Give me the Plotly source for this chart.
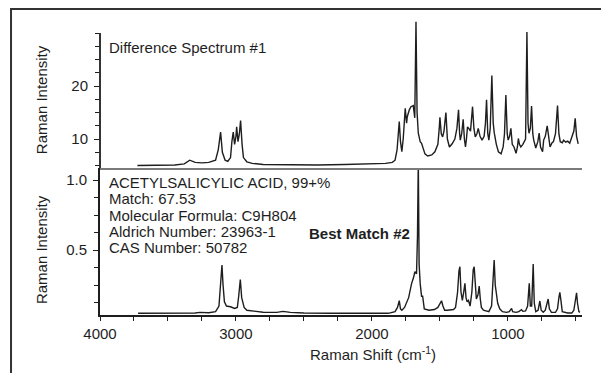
import plotly.graph_objects as go

# ---------------- data ----------------
diff_wn = [3725, 3600, 3450, 3380, 3340, 3300, 3250, 3200, 3150, 3130, 3113, 3100, 3080, 3060,
           3040, 3030, 3020, 3010, 3000, 2995, 2985, 2975, 2966, 2955, 2945, 2920, 2880, 2800,
           2600, 2400, 2200, 2000, 1900, 1850, 1830, 1815, 1805, 1799, 1790, 1780, 1770, 1755,
           1745, 1740, 1725, 1713, 1696, 1685, 1676, 1668, 1659, 1645, 1635, 1620, 1610, 1590,
           1560, 1537, 1515, 1505, 1500, 1490, 1480, 1470, 1456, 1445, 1430, 1410, 1390, 1375,
           1363, 1355, 1350, 1340, 1329, 1320, 1312, 1305, 1297, 1285, 1275, 1260, 1250, 1240,
           1228, 1218, 1205, 1190, 1175, 1165, 1157, 1148, 1140, 1130, 1118, 1108, 1100, 1085,
           1070, 1050, 1035, 1025, 1015, 1005, 998, 988, 978, 968, 955, 940, 930, 923, 915, 905,
           890, 870, 860, 852, 845, 835, 826, 817, 810, 795, 780, 770, 760, 745, 737, 725, 711,
           700, 690, 675, 665, 650, 635, 625, 615, 600, 590, 575, 560, 545, 530, 515, 505, 495, 483]
diff_int = [5.0, 5.0, 5.1, 5.3, 6.0, 5.6, 5.5, 5.6, 6.0, 8.0, 11.3, 7.5, 6.0, 5.8,
            6.5, 9.5, 11.3, 9.0, 10.5, 12.3, 9.5, 11.0, 13.5, 9.0, 6.5, 5.7, 5.4, 5.2,
            5.1, 5.1, 5.2, 5.3, 5.4, 5.6, 6.0, 8.0, 12.0, 13.3, 9.5, 7.6, 10.0, 15.8,
            13.0, 14.2, 15.5, 16.1, 16.3, 14.0, 32.1, 15.0, 11.1, 9.5, 9.2, 7.8, 7.2, 6.8,
            7.0, 7.6, 9.0, 12.0, 14.1, 11.0, 10.4, 11.5, 15.0, 10.0, 8.5, 9.1, 10.0, 12.0,
            15.5, 11.0, 9.8, 11.0, 13.7, 10.0, 8.5, 10.0, 12.3, 11.9, 11.5, 16.1, 12.0, 10.4,
            11.0, 12.0, 10.5, 9.8, 10.5, 13.0, 17.4, 11.0, 9.8, 12.0, 22.0, 13.0, 11.1, 9.0,
            7.6, 7.2, 8.5, 11.0, 18.3, 11.0, 9.8, 10.5, 12.0, 9.0, 8.5, 7.3, 8.5, 10.1, 9.0, 8.5,
            9.0, 10.0, 30.2, 13.0, 11.1, 12.0, 16.2, 11.0, 9.8, 8.3, 9.5, 11.1, 8.5, 7.6, 9.8, 10.5, 12.5,
            10.4, 8.5, 9.3, 9.5, 11.0, 16.3, 11.0, 9.5, 9.3, 9.8, 9.4, 9.6, 9.2, 10.5, 11.5, 13.9, 10.5, 9.1]

match_wn = [3720, 3500, 3300, 3265, 3200, 3150, 3125, 3110, 3103, 3095, 3085, 3070, 3040, 3010,
            2990, 2980, 2968, 2958, 2940, 2920, 2850, 2800, 2700, 2654, 2600, 2500, 2300, 2000,
            1880, 1830, 1812, 1799, 1790, 1780, 1760, 1730, 1715, 1708, 1695, 1684, 1672, 1665,
            1659, 1653, 1645, 1635, 1627, 1615, 1580, 1540, 1515, 1500, 1488, 1478, 1465, 1445,
            1425, 1400, 1385, 1370, 1360, 1353, 1345, 1335, 1325, 1316, 1308, 1300, 1290, 1278,
            1265, 1255, 1248, 1240, 1232, 1220, 1211, 1203, 1195, 1180, 1160, 1140, 1120, 1110,
            1101, 1093, 1085, 1075, 1060, 1040, 1010, 990, 973, 965, 940, 920, 900, 890, 870,
            855, 843, 835, 825, 814, 806, 795, 778, 765, 755, 740, 725, 713, 704, 695, 680, 650,
            635, 625, 618, 610, 600, 560, 530, 515, 503, 495, 488, 478, 470]
match_int = [0.048, 0.048, 0.05, 0.055, 0.052, 0.06, 0.1, 0.30, 0.393, 0.25, 0.13, 0.10, 0.095, 0.083,
             0.09, 0.17, 0.29, 0.16, 0.09, 0.07, 0.06, 0.056, 0.055, 0.062, 0.055, 0.05, 0.048, 0.046,
             0.048, 0.06, 0.09, 0.138, 0.08, 0.07, 0.09, 0.16, 0.24, 0.262, 0.30, 0.345, 0.33, 0.6,
             1.15, 0.4, 0.26, 0.17, 0.17, 0.08, 0.07, 0.075, 0.09, 0.12, 0.138, 0.1, 0.07, 0.07,
             0.073, 0.075, 0.09, 0.2, 0.35, 0.381, 0.2, 0.14, 0.2, 0.262, 0.16, 0.13, 0.14, 0.1,
             0.2, 0.36, 0.381, 0.22, 0.15, 0.18, 0.243, 0.15, 0.09, 0.07, 0.065, 0.06, 0.1, 0.3,
             0.429, 0.25, 0.17, 0.12, 0.08, 0.06, 0.055, 0.06, 0.083, 0.06, 0.055, 0.06, 0.074, 0.062, 0.065,
             0.1, 0.262, 0.1, 0.1, 0.40, 0.12, 0.06, 0.07, 0.136, 0.07, 0.055, 0.07, 0.12, 0.15, 0.08, 0.055, 0.055,
             0.08, 0.16, 0.198, 0.14, 0.06, 0.05, 0.05, 0.07, 0.15, 0.195, 0.12, 0.06, 0.055]

x_tick_vals = [4000, 3000, 2000, 1000]
x_minor_vals = [3750, 3500, 3250, 2750, 2500, 2250, 1750, 1500, 1250, 750, 500]
top_tick_vals = [10, 20]
top_minor_vals = [5, 7.5, 12.5, 15, 17.5, 22.5, 25, 27.5, 30]
bot_tick_vals = [0.5, 1.0]
bot_minor_vals = [0.125, 0.25, 0.375, 0.625, 0.75, 0.875]

info_lines = ["ACETYLSALICYLIC ACID, 99+%", "Match: 67.53", "Molecular Formula: C9H804",
              "Aldrich Number: 23963-1", "CAS Number: 50782"]

# ---------------- figure ----------------
FONT = "Arial, Liberation Sans, Helvetica, sans-serif"
INK = "#1e1e1e"
SPLIT = 0.4949
FS = 15

fig = go.Figure()
fig.add_trace(go.Scatter(x=match_wn, y=match_int, mode="lines", xaxis="x", yaxis="y",
                         line=dict(color=INK, width=1.4), showlegend=False, hoverinfo="skip"))
fig.add_trace(go.Scatter(x=diff_wn, y=diff_int, mode="lines", xaxis="x2", yaxis="y2",
                         line=dict(color=INK, width=1.4), showlegend=False, hoverinfo="skip"))

fig.update_layout(
    width=601, height=373,
    margin=dict(l=100, r=19, t=18, b=58),
    paper_bgcolor="white", plot_bgcolor="white",
    font=dict(family=FONT, size=FS, color=INK),
    xaxis=dict(domain=[0, 1], range=[4000, 455], anchor="y",
               showgrid=False, zeroline=False, showline=True, linecolor=INK, linewidth=1.8,
               ticks="outside", ticklen=4, tickwidth=1.3, tickcolor=INK,
               tickvals=x_tick_vals, ticktext=[str(v) for v in x_tick_vals],
               minor=dict(tickvals=x_minor_vals, ticks="outside", ticklen=4, tickwidth=1.3, tickcolor=INK),
               tickfont=dict(size=FS)),
    yaxis=dict(domain=[0, SPLIT], range=[0.036, 1.086], anchor="x",
               showgrid=False, zeroline=False, showline=True, linecolor=INK, linewidth=1.8,
               ticks="outside", ticklen=5, tickwidth=1.3, tickcolor=INK,
               tickvals=bot_tick_vals, ticktext=["0.5", "1.0"], ticklabelstandoff=3,
               minor=dict(tickvals=bot_minor_vals, ticks="outside", ticklen=4, tickwidth=1.3, tickcolor=INK),
               tickfont=dict(size=FS)),
    xaxis2=dict(domain=[0, 1], range=[4000, 455], anchor="y2", matches="x",
                showgrid=False, zeroline=False, showline=True, linecolor="#7a7a7a", linewidth=2,
                ticks="", showticklabels=False),
    yaxis2=dict(domain=[SPLIT, 1], range=[4.53, 32.83], anchor="x2",
                showgrid=False, zeroline=False, showline=False,
                ticks="outside", ticklen=5, tickwidth=1.3, tickcolor=INK,
                tickvals=top_tick_vals, ticktext=["10", "20"], ticklabelstandoff=3,
                minor=dict(tickvals=top_minor_vals, ticks="outside", ticklen=4, tickwidth=1.3, tickcolor=INK),
                tickfont=dict(size=FS)),
)

# top y-axis line (stops short of the plot top)
fig.add_shape(type="line", xref="x2 domain", yref="y2", x0=0, x1=0, y0=4.53, y1=30,
              line=dict(color=INK, width=1.8))
# outer frame
fig.add_shape(type="rect", xref="paper", yref="paper", x0=-0.1846, x1=1.2, y0=-0.4, y1=1.0303,
              line=dict(color="#333333", width=2), fillcolor="rgba(0,0,0,0)", layer="above")

fig.add_annotation(xref="x2", yref="y2", x=3949, y=27.2, text="Difference Spectrum #1",
                   showarrow=False, xanchor="left", yanchor="middle", font=dict(size=FS))

info_y = [0.986, 0.871, 0.750, 0.636, 0.521]
for txt, yy in zip(info_lines, info_y):
    fig.add_annotation(xref="x", yref="y", x=3949, y=yy, text=txt, showarrow=False,
                       xanchor="left", yanchor="middle", font=dict(size=FS))

fig.add_annotation(xref="x", yref="y", x=2478, y=0.621, text="<b>Best Match #2</b>",
                   showarrow=False, xanchor="left", yanchor="middle", font=dict(size=FS))

fig.add_annotation(xref="paper", yref="paper", x=0.566, y=-0.131, text="Raman Shift (cm<sup>-1</sup>)",
                   showarrow=False, xanchor="center", yanchor="middle", font=dict(size=FS))
fig.add_annotation(xref="paper", yref="paper", x=-0.120, y=0.724, text="Raman Intensity",
                   textangle=-90, showarrow=False, xanchor="center", yanchor="middle", font=dict(size=FS))
fig.add_annotation(xref="paper", yref="paper", x=-0.120, y=0.219, text="Raman Intensity",
                   textangle=-90, showarrow=False, xanchor="center", yanchor="middle", font=dict(size=FS))

fig.write_html("out.html")
